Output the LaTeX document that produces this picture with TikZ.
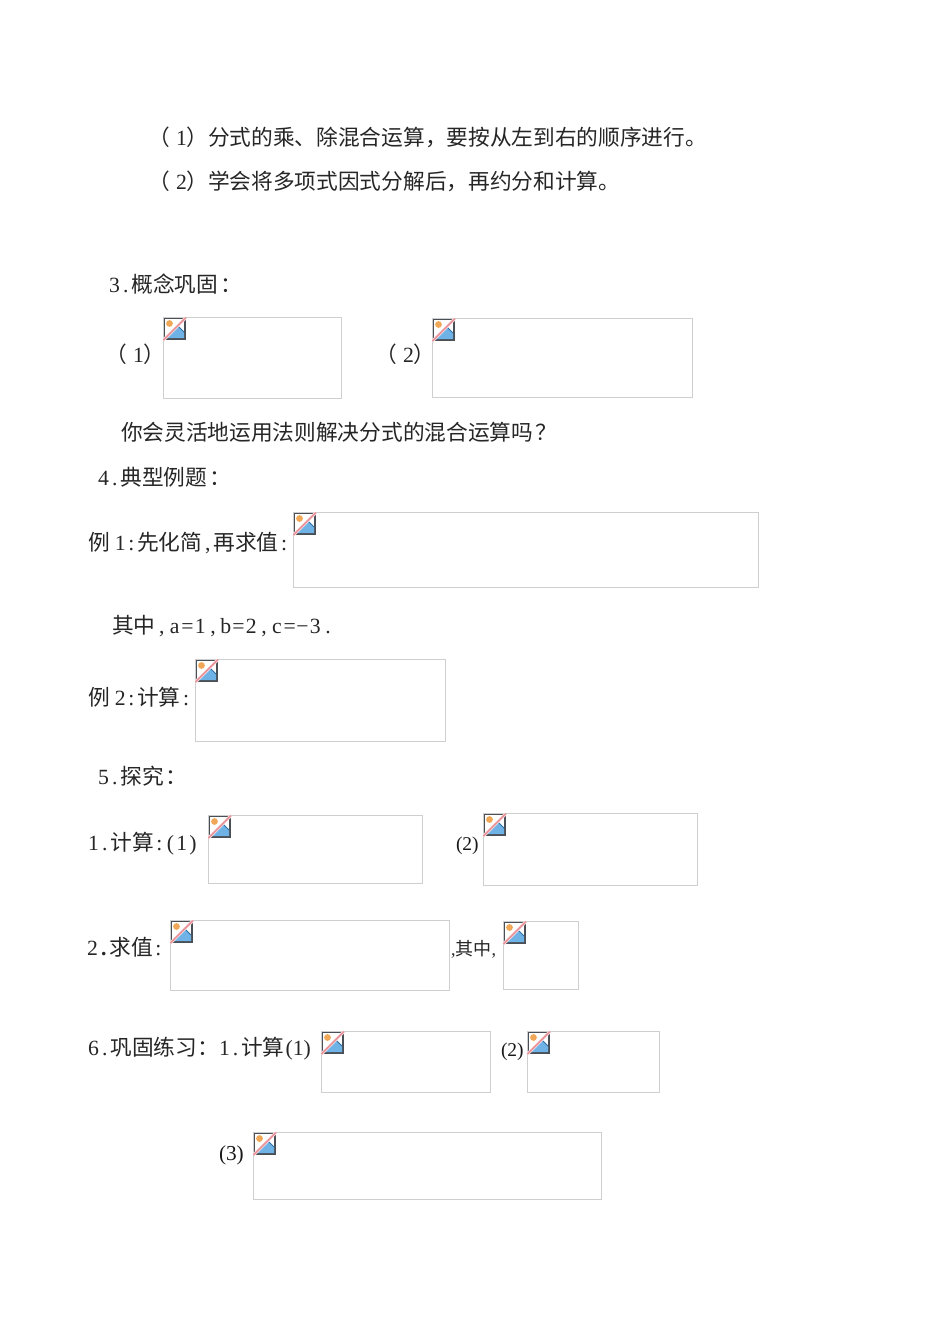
\documentclass[tikz,border=0pt]{standalone}
\usepackage{fontspec}
\setmainfont{Liberation Serif}
\newfontfamily\cjk{Noto Sans CJK SC}
\newcommand{\hw}[1]{\makebox[11.2pt][c]{\rmfamily #1}}
\newcommand{\hwb}[1]{\makebox[12.8pt][c]{\rmfamily #1}}
\newcommand{\hwp}[1]{\makebox[9pt][c]{\rmfamily #1}}
\newcommand{\cc}[1]{\hspace{2pt}#1}
\newcommand{\pnum}[1]{（\hspace{6.5pt}\makebox[10.85pt][c]{\rmfamily #1}\hspace{-0.75pt}）}
\newcommand{\imgbox}[5]{%
  \node[imgframe,minimum width=#4pt-#2pt,minimum height=#5pt-#3pt,anchor=north west] (#1) at (#2,#3) {};
  \begin{scope}[shift={(#1.north west)},x=1pt,y=-1pt]
    \draw[fill=white,draw=iconedge,line width=1.6pt] (1.5,1.5) rectangle (22,22);
    \fill[iconsky] (3,21) -- (15,9) -- (21,15) -- (21,21) -- cycle;
    \draw[iconline,line width=0.9pt] (15,9) -- (21,15);
    \fill[iconsun] (6.5,6.5) circle (3.4pt);
    \draw[white,line width=3pt] (0.5,23) -- (23,0.5);
    \draw[iconslash,line width=2pt] (0.5,23) -- (23,0.5);
  \end{scope}}
\tikzset{
  x=1pt,y=-1pt,
  imgframe/.style={draw=framegray,line width=0.9pt,inner sep=0pt,outer sep=0pt},
  txt/.style={anchor=base west,inner sep=0pt,outer sep=0pt,text=black!85,font=\fontsize{21.7}{25}\selectfont\cjk},
  smalltxt/.style={anchor=base west,inner sep=0pt,outer sep=0pt,text=black!85,font=\fontsize{18}{22}\selectfont\cjk},
  numtxt/.style={anchor=base west,inner sep=0pt,outer sep=0pt,text=black!90,font=\fontsize{19.5}{22}\selectfont\rmfamily},
  numbig/.style={numtxt,font=\fontsize{21.3}{25}\selectfont\rmfamily}
}
\definecolor{framegray}{HTML}{CFCFCF}
\definecolor{iconedge}{HTML}{4A4F55}
\definecolor{iconsky}{HTML}{6FB3E6}
\definecolor{iconline}{HTML}{2F6FA5}
\definecolor{iconsun}{HTML}{F0A858}
\definecolor{iconslash}{HTML}{E8949A}
\begin{document}
\begin{tikzpicture}
\useasboundingbox (0,0) rectangle (950,1342);
\fill[white] (0,0) rectangle (950,1342);
\node[txt] (t1) at (148,145) {\pnum{1}分式的乘、除混合运算，要按从左到右的顺序进行。};
\node[txt] (t2) at (148,189) {\pnum{2}学会将多项式因式分解后，再约分和计算。};
\node[txt] (t3) at (109,292) {\hw{3}\hw{.}概念巩固\cc{：}};
\node[txt] (t4a) at (105,362) {\pnum{1}};
\imgbox{b1}{163}{317}{341}{398}
\node[txt] (t4b) at (375,362) {\pnum{2}};
\imgbox{b2}{432}{318}{692}{397}
\node[txt] (t5) at (121,440) {你会灵活地运用法则解决分式的混合运算吗\cc{？}};
\node[txt] (t6) at (98,485) {\hw{4}\hw{.}典型例题\cc{：}};
\node[txt] (t7) at (88,550) {例\hspace{5pt}\hw{1}\hw{:}先化简\hw{,}再求值\hw{:}};
\imgbox{b3}{293}{512}{758}{587}
\node[txt] (t8) at (112,633) {其中\hwb{,}\hwb{a}\hwb{=}\hwb{1}\hwb{,}\hwb{b}\hwb{=}\hwb{2}\hwb{,}\hwb{c}\hwb{=}\hwb{−}\hwb{3}\hwb{.}};
\node[txt] (t9) at (88,705) {例\hspace{5pt}\hw{2}\hw{:}计算\hw{:}};
\imgbox{b4}{195}{659}{445}{741}
\node[txt] (t10) at (98,784) {\hw{5}\hw{.}探究\cc{：}};
\node[txt] (t11) at (88,850) {\hw{1}\hw{.}计算\hw{:}\hw{(}\hw{1}\hw{)}};
\imgbox{b5}{208}{815}{422}{883}
\node[numtxt] (t12) at (456,850) {(2)};
\imgbox{b6}{483}{813}{697}{885}
\node[txt] (t13) at (87,955) {\hw{2}\hw{\textbf{.}}求值\hw{:}};
\imgbox{b7}{170}{920}{449}{990}
\node[smalltxt] (t14) at (451,955) {{\rmfamily ,}其中{\rmfamily ,}};
\imgbox{b8}{503}{921}{578}{989}
\node[txt] (t15) at (88,1055) {\hw{6}\hw{.}巩固练习：\hw{1}\hw{.}计算\hwp{(}\hwp{1}\hwp{)}};
\imgbox{b9}{321}{1031}{490}{1092}
\node[numtxt] (t16) at (501,1056) {(2)};
\imgbox{b10}{527}{1031}{659}{1092}
\node[numbig] (t17) at (219,1160) {(3)};
\imgbox{b11}{253}{1132}{601}{1199}
\end{tikzpicture}
\end{document}
